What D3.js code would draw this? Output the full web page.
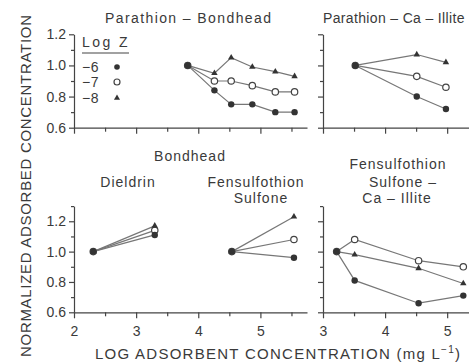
<!DOCTYPE html>
<html>
<head>
<meta charset="utf-8">
<script src="https://cdn.jsdelivr.net/npm/d3@7"></script>
<style>
  body { margin: 0; background: #fff; }
  svg { font-family: "Liberation Sans", Arial, sans-serif; }
</style>
</head>
<body>
<div id="chart"></div>
<script>
// values (x = log adsorbent conc., y = normalized adsorbed conc.)
var zLevels = ["\u22126", "\u22127", "\u22128"];

var parBondX  = [3.83, 4.26, 4.53, 4.87, 5.24, 5.55];
var parBondZ6 = [1.00, 0.84, 0.75, 0.75, 0.70, 0.70];
var parBondZ7 = [1.00, 0.90, 0.90, 0.87, 0.83, 0.83];
var parBondZ8 = [1.00, 0.95, 1.05, 0.99, 0.96, 0.93];

var parIlliteX  = [3.52, 4.51, 4.98];
var parIlliteZ6 = [1.00, 0.80, 0.72];
var parIlliteZ7 = [1.00, 0.93, 0.86];
var parIlliteZ8 = [1.00, 1.07, 1.02];

var dieldrinX  = [2.31, 3.30];
var dieldrinZ6 = [1.00, 1.11];
var dieldrinZ7 = [1.00, 1.14];
var dieldrinZ8 = [1.00, 1.17];

var fensBondX  = [4.54, 5.54];
var fensBondZ6 = [1.00, 0.96];
var fensBondZ7 = [1.00, 1.08];
var fensBondZ8 = [1.00, 1.23];

var fensIlliteX  = [3.22, 3.51, 4.54, 5.26];
var fensIlliteZ6 = [1.00, 0.81, 0.66, 0.71];
var fensIlliteZ7 = [1.00, 1.08, 0.94, 0.90];
var fensIlliteZ8 = [1.00, 0.98, 0.89, 0.79];

var topYTicks = [0.6, 0.7, 0.8, 0.9, 1.0, 1.1, 1.2];
var botYTicks = [0.6, 0.7, 0.8, 0.9, 1.0, 1.1, 1.2, 1.3];
var leftXTicks = [2, 2.5, 3, 3.5, 4, 4.5, 5, 5.5];
var rightXTicks = [3, 3.5, 4, 4.5, 5];

var textColor = "#3a3a3a";
var inkColor = "#333";
var lineColor = "#777";

var svg = d3.select("#chart").append("svg")
    .attr("width", 469)
    .attr("height", 362);

// scales for the four plotting areas
var xLeft = d3.scaleLinear().domain([2, 5.75]).range([74, 307]);
var xRight = d3.scaleLinear().domain([3, 5.4]).range([323, 472]);
var yTop = d3.scaleLinear().domain([0.6, 1.2]).range([127.7, 34.3]);
var yBot = d3.scaleLinear().domain([0.6, 1.3]).range([312.3, 206.1]);

function isMajor(v, step) {
    return Math.abs(v / step - Math.round(v / step)) < 1e-6;
}

// draw one pair of axes
function drawAxes(x, y, yTicks, xTicks, yLabels, xLabels) {
    var gy = svg.append("g")
        .attr("transform", `translate(${x.range()[0]},0)`)
        .call(d3.axisLeft(y).tickValues(yTicks).tickSizeOuter(0)
            .tickFormat(d => (yLabels && isMajor(d, 0.2)) ? d3.format(".1f")(d) : ""));
    gy.selectAll(".tick line").attr("x2", d => isMajor(d, 0.2) ? -5 : -3);

    var gx = svg.append("g")
        .attr("transform", `translate(0,${y.range()[0]})`)
        .call(d3.axisBottom(x).tickValues(xTicks).tickSizeOuter(0)
            .tickFormat(d => (xLabels && isMajor(d, 1)) ? d : ""));
    gx.selectAll(".tick line").attr("y2", d => isMajor(d, 1) ? 6 : 4);
    gx.selectAll(".tick text").attr("dy", "1.05em");

    [gx, gy].forEach(function(g) {
        g.selectAll("path, line").attr("stroke", "#444").attr("stroke-width", 1.2);
        g.selectAll("text")
            .attr("fill", textColor)
            .style("font-size", "14px")
            .style("font-family", "'Liberation Sans', Arial, sans-serif");
    });
    gy.selectAll(".tick text").attr("x", -8);
}

var line = d3.line();

function drawSeries(x, y, xs, z6, z7, z8) {
    var g = svg.append("g");
    [z8, z7, z6].forEach(function(vals) {
        g.append("path")
            .attr("d", line(xs.map((v, i) => [x(v), y(vals[i])])))
            .attr("fill", "none")
            .attr("stroke", lineColor)
            .attr("stroke-width", 1.2);
    });
    // open circles
    g.selectAll(".z7").data(xs).enter().append("circle")
        .attr("cx", d => x(d))
        .attr("cy", (d, i) => y(z7[i]))
        .attr("r", 3.2)
        .attr("fill", "#fff")
        .attr("stroke", "#444")
        .attr("stroke-width", 1.2);
    // triangles
    g.selectAll(".z8").data(xs).enter().append("path")
        .attr("d", d3.symbol().type(d3.symbolTriangle).size(18))
        .attr("transform", (d, i) => `translate(${x(d)},${y(z8[i])})`)
        .attr("fill", inkColor);
    // filled circles
    g.selectAll(".z6").data(xs).enter().append("circle")
        .attr("cx", d => x(d))
        .attr("cy", (d, i) => y(z6[i]))
        .attr("r", 3.2)
        .attr("fill", inkColor);
}

drawAxes(xLeft, yTop, topYTicks, leftXTicks, true, false);
drawAxes(xRight, yTop, topYTicks, rightXTicks, false, false);
drawAxes(xLeft, yBot, botYTicks, leftXTicks, true, true);
drawAxes(xRight, yBot, botYTicks, rightXTicks, false, true);

drawSeries(xLeft, yTop, parBondX, parBondZ6, parBondZ7, parBondZ8);
drawSeries(xRight, yTop, parIlliteX, parIlliteZ6, parIlliteZ7, parIlliteZ8);
drawSeries(xLeft, yBot, dieldrinX, dieldrinZ6, dieldrinZ7, dieldrinZ8);
drawSeries(xLeft, yBot, fensBondX, fensBondZ6, fensBondZ7, fensBondZ8);
drawSeries(xRight, yBot, fensIlliteX, fensIlliteZ6, fensIlliteZ7, fensIlliteZ8);

// panel titles
function label(txt, x, y, opts) {
    opts = opts || {};
    var t = svg.append("text")
        .attr("x", x)
        .attr("y", y)
        .attr("fill", textColor)
        .attr("text-anchor", opts.anchor || "middle")
        .style("font-size", (opts.size || 14) + "px")
        .style("letter-spacing", (opts.spacing == null ? 1 : opts.spacing) + "px")
        .text(txt);
    if (opts.len) t.attr("textLength", opts.len).attr("lengthAdjust", "spacing");
    return t;
}

label("Parathion  \u2013  Bondhead", 105, 23, {anchor: "start", len: 167});
label("Parathion \u2013 Ca \u2013 Illite", 323, 23, {anchor: "start", len: 142, spacing: 0.5});
label("Bondhead", 190, 161);
label("Dieldrin", 128, 187);
label("Fensulfothion", 256, 187);
label("Sulfone", 261, 203);
label("Fensulfothion", 398, 169);
label("Sulfone  \u2013", 403, 187);
label("Ca  \u2013  Illite", 397, 203);

// legend
label("Log Z", 82, 47, {anchor: "start", len: 46, spacing: 0.5});
svg.append("line")
    .attr("x1", 82).attr("x2", 129)
    .attr("y1", 53).attr("y2", 53)
    .attr("stroke", "#444").attr("stroke-width", 1.2);
var legY = [67, 82, 98];
zLevels.forEach(function(z, i) {
    label(z, 82, legY[i] + 5, {anchor: "start", spacing: 0.5});
});
svg.append("circle").attr("cx", 117).attr("cy", legY[0]).attr("r", 2.8).attr("fill", inkColor);
svg.append("circle").attr("cx", 117).attr("cy", legY[1]).attr("r", 3)
    .attr("fill", "#fff").attr("stroke", "#444").attr("stroke-width", 1.2);
svg.append("path")
    .attr("d", d3.symbol().type(d3.symbolTriangle).size(16))
    .attr("transform", `translate(117,${legY[2]})`)
    .attr("fill", inkColor);

// axis titles
svg.append("text")
    .attr("transform", "translate(31,186) rotate(-90)")
    .attr("text-anchor", "middle")
    .attr("fill", textColor)
    .style("font-size", "15px")
    .attr("textLength", 342)
    .attr("lengthAdjust", "spacing")
    .text("NORMALIZED ADSORBED CONCENTRATION");

var xt = svg.append("text")
    .attr("x", 95)
    .attr("y", 359)
    .attr("fill", textColor)
    .style("font-size", "15px")
    .attr("textLength", 365)
    .attr("lengthAdjust", "spacing");
xt.append("tspan").text("LOG ADSORBENT CONCENTRATION  (mg L");
xt.append("tspan").attr("dy", -6).style("font-size", "10px").text("\u22121");
xt.append("tspan").attr("dy", 6).text(")");
</script>
</body>
</html>
